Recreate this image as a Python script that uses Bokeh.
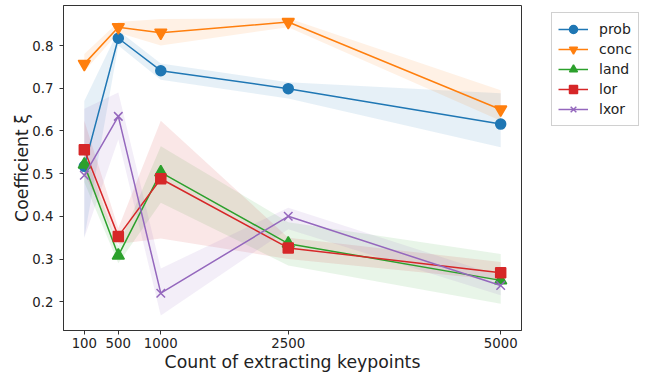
from bokeh.plotting import figure
from bokeh.models import FixedTicker, Legend, Range1d
from bokeh.embed import file_html
from bokeh.resources import INLINE

x = [100, 500, 1000, 2500, 5000]
tick_labels = ["100", "500", "1000", "2500", "5000"]

prob = [0.517, 0.817, 0.741, 0.699, 0.616]
prob_lo = [0.350, 0.800, 0.720, 0.676, 0.562]
prob_hi = [0.670, 0.835, 0.758, 0.714, 0.688]

conc = [0.757, 0.843, 0.830, 0.855, 0.650]
conc_lo = [0.740, 0.830, 0.800, 0.843, 0.624]
conc_hi = [0.780, 0.855, 0.862, 0.864, 0.695]

land = [0.521, 0.308, 0.503, 0.336, 0.250]
land_lo = [0.480, 0.290, 0.432, 0.285, 0.195]
land_hi = [0.550, 0.330, 0.564, 0.386, 0.312]

lor = [0.556, 0.353, 0.488, 0.326, 0.268]
lor_lo = [0.500, 0.335, 0.348, 0.300, 0.250]
lor_hi = [0.624, 0.372, 0.624, 0.350, 0.293]

lxor = [0.496, 0.634, 0.220, 0.400, 0.238]
lxor_lo = [0.350, 0.580, 0.168, 0.370, 0.215]
lxor_hi = [0.652, 0.690, 0.278, 0.420, 0.260]

series = [
    ("prob", prob, prob_lo, prob_hi, "#1f77b4", "circle", 10),
    ("conc", conc, conc_lo, conc_hi, "#ff7f0e", "inverted_triangle", 12),
    ("land", land, land_lo, land_hi, "#2ca02c", "triangle", 12),
    ("lor", lor, lor_lo, lor_hi, "#d62728", "square", 10),
    ("lxor", lxor, lxor_lo, lxor_hi, "#9467bd", "x", 12),
]

FH = 325
p = figure(frame_width=458, frame_height=FH, output_backend="svg",
           toolbar_location=None, min_border_left=63, min_border_top=5,
           min_border_right=0, min_border_bottom=0,
           x_range=Range1d(-145, 5245), y_range=Range1d(0.1326, 0.8937))

font = "DejaVu Sans"
txt = "#222222"

items = []
for name, y, lo, hi, col, mk, sz in series:
    p.varea(x=x, y1=lo, y2=hi, fill_color=col, fill_alpha=0.11)
for name, y, lo, hi, col, mk, sz in series:
    r1 = p.line(x, y, line_color=col, line_width=1.5)
    r2 = p.scatter(x, y, marker=mk, size=sz, fill_color=col, line_color=col,
                   line_width=1.5)
    items.append((name, [r1, r2]))

p.xgrid.visible = False
p.ygrid.visible = False
p.outline_line_color = "#333333"
p.outline_line_width = 1

p.xaxis.ticker = FixedTicker(ticks=x)
p.xaxis.major_label_overrides = {v: s for v, s in zip(x, tick_labels)}
p.yaxis.ticker = FixedTicker(ticks=[0.2, 0.3, 0.4, 0.5, 0.6, 0.7, 0.8])
for ax in (p.xaxis[0], p.yaxis[0]):
    ax.minor_tick_line_color = None
    ax.major_tick_in = 0
    ax.major_tick_out = 4
    ax.axis_line_color = "#333333"
    ax.major_tick_line_color = "#333333"
    ax.major_label_text_font = font
    ax.major_label_text_font_size = "13.3px"
    ax.major_label_text_color = txt
    ax.axis_label_text_font = font
    ax.axis_label_text_font_size = "17.3px"
    ax.axis_label_text_font_style = "normal"
    ax.axis_label_text_color = txt
p.xaxis.major_label_standoff = 3
p.yaxis.major_label_standoff = 6
p.xaxis.axis_label = "Count of extracting keypoints"
p.yaxis.axis_label = "Coefficient ξ"
p.xaxis.axis_label_standoff = 1
p.yaxis.axis_label_standoff = -3

legend = Legend(items=items)
legend.label_text_font = font
legend.label_text_font_size = "14px"
legend.label_text_color = txt
legend.glyph_width = 30
legend.glyph_height = 20
legend.spacing = 0
legend.padding = 6
legend.margin = 0
legend.label_standoff = 11
legend.border_line_color = "#d0d0d0"
legend.border_line_width = 1
legend.border_line_alpha = 1
legend.background_fill_alpha = 1
legend.location = (30, FH - 114 - 7)
p.add_layout(legend, "right")

open("out.html", "w").write(file_html(p, INLINE))
